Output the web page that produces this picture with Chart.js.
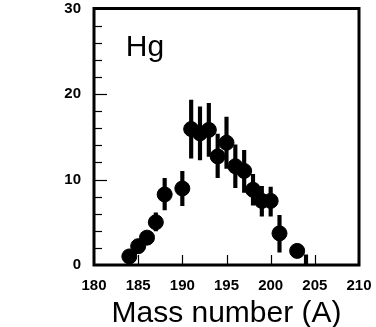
<!DOCTYPE html>
<html>
<head>
<meta charset="utf-8">
<script src="https://cdn.jsdelivr.net/npm/chart.js@4/dist/chart.umd.min.js"></script>
<style>
html,body{margin:0;padding:0;background:#fff;}
#wrap{width:376px;height:327px;position:relative;}
</style>
</head>
<body>
<div id="wrap"><canvas id="c" width="376" height="327"></canvas></div>
<script>
// Data
const massNumbers = [184, 185, 186, 187, 188, 190, 191, 192, 193, 194, 195, 196, 197, 198, 199, 200, 201, 203, 204];
const yields      = [1.0, 2.2, 3.2, 5.0, 8.25, 8.95, 15.9, 15.4, 15.8, 12.7, 14.3, 11.55, 11.0, 8.8, 7.5, 7.5, 3.7, 1.65, 0];
const errLow      = [0.5, 0.6, 0.6, 1.0, 1.8, 2.0, 3.4, 3.1, 3.1, 2.5, 3.0, 2.5, 2.5, 1.8, 1.8, 1.8, 2.2, 0.5, 0];
const errHigh     = [0.5, 0.6, 0.6, 1.1, 1.9, 2.0, 3.4, 3.1, 3.1, 2.6, 3.0, 2.5, 2.4, 1.8, 1.7, 1.6, 2.1, 0.5, 1.2];
const xTickLabels = [180, 185, 190, 195, 200, 205, 210];
const yTickLabels = [0, 10, 20, 30];
const elementLabel = 'Hg';
const xTitle = 'Mass number (A)';

const FONT = "'Liberation Sans', Arial, Helvetica, sans-serif";

const points = massNumbers.map((m, i) => ({x: m, y: yields[i]}));
const bars = massNumbers.map((m, i) => ({x: m, y: [yields[i] - errLow[i], yields[i] + errHigh[i]]}));

const framePlugin = {
  id: 'frame',
  afterDatasetsDraw(chart) {
    const {ctx, chartArea: a, scales: {x, y}} = chart;
    ctx.save();
    ctx.strokeStyle = '#000';
    // inward ticks on y axis (major every 10, minor every 2)
    ctx.lineWidth = 1.2;
    for (let v = 2; v < 30; v += 2) {
      const py = Math.round(y.getPixelForValue(v)) + 0.5;
      const len = (v % 10 === 0) ? 13 : 8;
      ctx.beginPath(); ctx.moveTo(a.left, py); ctx.lineTo(a.left + len, py); ctx.stroke();
    }
    // inward ticks on x axis
    for (let v = 185; v < 210; v += 5) {
      const px = Math.round(x.getPixelForValue(v)) + 0.5;
      ctx.beginPath(); ctx.moveTo(px, a.bottom); ctx.lineTo(px, a.bottom - 10); ctx.stroke();
    }
    // frame
    ctx.lineWidth = 3;
    ctx.strokeRect(a.left, a.top, a.right - a.left, a.bottom - a.top);
    // element label
    ctx.fillStyle = '#000';
    ctx.font = '30px ' + FONT;
    ctx.textBaseline = 'alphabetic';
    ctx.textAlign = 'left';
    ctx.fillText(elementLabel, x.getPixelForValue(183.6), y.getPixelForValue(24.5));
    ctx.restore();
  }
};

new Chart(document.getElementById('c'), {
  type: 'scatter',
  data: {
    datasets: [
      {
        type: 'bar',
        data: bars,
        backgroundColor: '#000',
        borderWidth: 0,
        barThickness: 3.5,
        grouped: false,
        order: 2
      },
      {
        type: 'scatter',
        data: points,
        backgroundColor: '#000',
        borderColor: '#000',
        pointRadius: yields.map(v => v > 0 ? 7.5 : 0),
        pointHoverRadius: 7.5,
        order: 1
      }
    ]
  },
  options: {
    responsive: false,
    animation: false,
    events: [],
    layout: {padding: {left: 0, right: 17, top: 6, bottom: 0}},
    plugins: {legend: {display: false}, tooltip: {enabled: false}},
    scales: {
      x: {
        type: 'linear',
        min: 180, max: 210,
        offset: false,
        afterFit(s) { s.height = 62; s.paddingLeft = 0; s.paddingRight = 0; },
        afterBuildTicks(s) { s.ticks = xTickLabels.map(v => ({value: v})); },
        grid: {display: false, drawTicks: false},
        border: {display: false},
        ticks: {color: '#000', font: {family: FONT, size: 15, weight: 'bold', lineHeight: 1.0}, padding: 13, maxRotation: 0, autoSkip: false},
        title: {display: true, text: xTitle, color: '#000', font: {family: FONT, size: 30, lineHeight: 0.9}, padding: {top: 0, bottom: 0}}
      },
      y: {
        type: 'linear',
        min: 0, max: 30,
        afterFit(s) { s.width = 94; s.paddingTop = 0; s.paddingBottom = 0; },
        afterBuildTicks(s) { s.ticks = yTickLabels.map(v => ({value: v})); },
        grid: {display: false, drawTicks: false},
        border: {display: false},
        ticks: {color: '#000', font: {family: FONT, size: 15, weight: 'bold', lineHeight: 1.0}, padding: 13}
      }
    }
  },
  plugins: [framePlugin]
});
</script>
</body>
</html>
